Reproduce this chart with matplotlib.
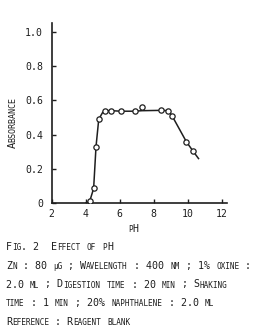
import matplotlib
matplotlib.use("Agg")
import matplotlib.pyplot as plt

# ---- data ----
ph_points = [4.24, 4.47, 4.61, 4.77, 5.16, 5.51, 6.07, 6.87, 7.30, 8.43, 8.86, 9.08, 9.91, 10.28]
abs_points = [0.01, 0.085, 0.33, 0.49, 0.54, 0.54, 0.537, 0.537, 0.56, 0.543, 0.54, 0.508, 0.358, 0.306]

curve_ph = [4.02, 4.24, 4.47, 4.61, 4.77, 5.0, 5.16, 5.51, 6.07, 6.87, 7.30, 8.43, 8.86, 9.08, 9.91, 10.28, 10.62]
curve_abs = [0.0, 0.01, 0.085, 0.33, 0.49, 0.53, 0.54, 0.54, 0.537, 0.537, 0.54, 0.542, 0.54, 0.508, 0.358, 0.306, 0.26]

x_ticks = [2, 4, 6, 8, 10, 12]
x_tick_labels = ["2", "4", "6", "8", "10", "12"]
y_ticks = [0, 0.2, 0.4, 0.6, 0.8, 1.0]
y_tick_labels = ["0", "0.2", "0.4", "0.6", "0.8", "1.0"]

caption_lines = [
    "Fig. 2  Effect of pH",
    "Zn : 80 \u00b5g ; Wavelength : 400 nm ; 1% oxine :",
    "2.0 ml ; Digestion time : 20 min ; Shaking",
    "time : 1 min ; 20% naphthalene : 2.0 ml",
    "Reference : Reagent blank",
]
ylabel_text = "Absorbance"
xlabel_text = "pH"

# ---- figure ----
W, H, DPI = 268, 334, 100
INK = "#1e1e1e"
MONO = "DejaVu Sans Mono"
fig = plt.figure(figsize=(W / DPI, H / DPI), dpi=DPI)
fig.patch.set_facecolor("white")

ax_l, ax_r, ax_b, ax_t = 51.5, 227, 203, 23
ax = fig.add_axes([ax_l / W, 1 - ax_b / H, (ax_r - ax_l) / W, (ax_b - ax_t) / H])
ax.plot(curve_ph, curve_abs, color=INK, lw=1.1, zorder=2)
ax.plot(ph_points, abs_points, ls="none", marker="o", ms=3.8, mfc="white",
        mec=INK, mew=0.9, zorder=3)

ax.set_xlim(2, 12.29)
ax.set_ylim(0, 1.053)
ax.set_xticks(x_ticks)
ax.set_xticklabels(x_tick_labels)
ax.set_yticks(y_ticks)
ax.set_yticklabels(y_tick_labels)
for s in ("top", "right"):
    ax.spines[s].set_visible(False)
for s in ("left", "bottom"):
    ax.spines[s].set_linewidth(1.2)
    ax.spines[s].set_color(INK)
ax.tick_params(direction="in", length=3, width=1.0, colors=INK)
ax.tick_params(axis="y", pad=6)
ax.tick_params(axis="x", pad=4)
for lab in ax.get_xticklabels() + ax.get_yticklabels():
    lab.set_family(MONO)
    lab.set_fontsize(7.1)
    lab.set_color(INK)

ADV = 0.602  # DejaVu Sans Mono advance / em


def small_caps(x_px, y_px, s, big=7.2, small=5.6, rotate=False):
    """Draw text in small caps: lowercase letters become smaller capitals."""
    runs = []
    for ch in s:
        is_small = ch.islower()
        if ch == "\u00b5":
            is_small, disp = True, ch
        else:
            disp = ch.upper() if is_small else ch
        if runs and runs[-1][0] == is_small:
            runs[-1][1] += disp
        else:
            runs.append([is_small, disp])
    pos = 0.0
    for is_small, txt in runs:
        size = small if is_small else big
        if rotate:
            fig.text(x_px / W, 1 - (y_px - pos) / H, txt, fontsize=size, family=MONO,
                     color=INK, rotation=90, rotation_mode="anchor",
                     ha="left", va="baseline")
        else:
            fig.text((x_px + pos) / W, 1 - y_px / H, txt, fontsize=size, family=MONO,
                     color=INK, ha="left", va="baseline")
        pos += len(txt) * ADV * size * DPI / 72.0


baselines = [250.5, 269, 287.5, 306, 325]
for line, yb in zip(caption_lines, baselines):
    small_caps(6, yb, line)

small_caps(128, 231.5, xlabel_text)
small_caps(15.5, 148, ylabel_text, big=7.6, small=6.0, rotate=True)

fig.savefig("out.png", dpi=DPI, facecolor="white")
